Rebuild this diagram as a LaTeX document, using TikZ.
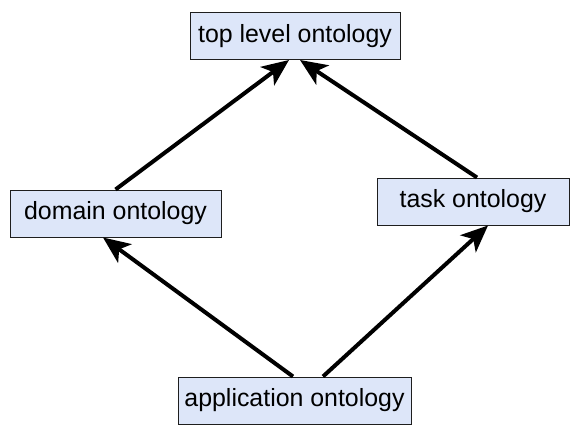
\documentclass[tikz,border=0pt]{standalone}
\usepackage{fontspec}
\setmainfont{Liberation Sans}
\usetikzlibrary{arrows.meta}
\definecolor{boxfill}{RGB}{221,230,249}
\definecolor{boxline}{RGB}{30,30,30}
\begin{document}
\begin{tikzpicture}[x=1pt,y=-1pt,
  ontobox/.style={draw=boxline, line width=1pt, fill=boxfill, inner sep=0pt,
    minimum height=47pt, font=\fontsize{24.9}{28}\selectfont},
  link/.style={line width=4pt, -{Stealth[length=27pt,width=23pt,inset=7pt]}}]
\useasboundingbox (0,0) rectangle (576,428);
\node[ontobox, minimum width=210pt] (top) at (295,36) {top level ontology};
\node[ontobox, minimum width=211pt] (dom) at (115.5,213.5) {domain ontology};
\node[ontobox, minimum width=192pt] (task) at (473,201.5) {task ontology};
\node[ontobox, minimum width=233pt] (app) at (294.5,400.5) {application ontology};
\draw[link] ([xshift=0pt]dom.north) -- ([xshift=-6pt]top.south);
\draw[link] ([xshift=4pt]task.north) -- ([xshift=5pt]top.south);
\draw[link] ([xshift=-1.5pt]app.north) -- ([xshift=-12.5pt]dom.south);
\draw[link] ([xshift=28.5pt]app.north) -- ([xshift=15pt]task.south);
\end{tikzpicture}
\end{document}
